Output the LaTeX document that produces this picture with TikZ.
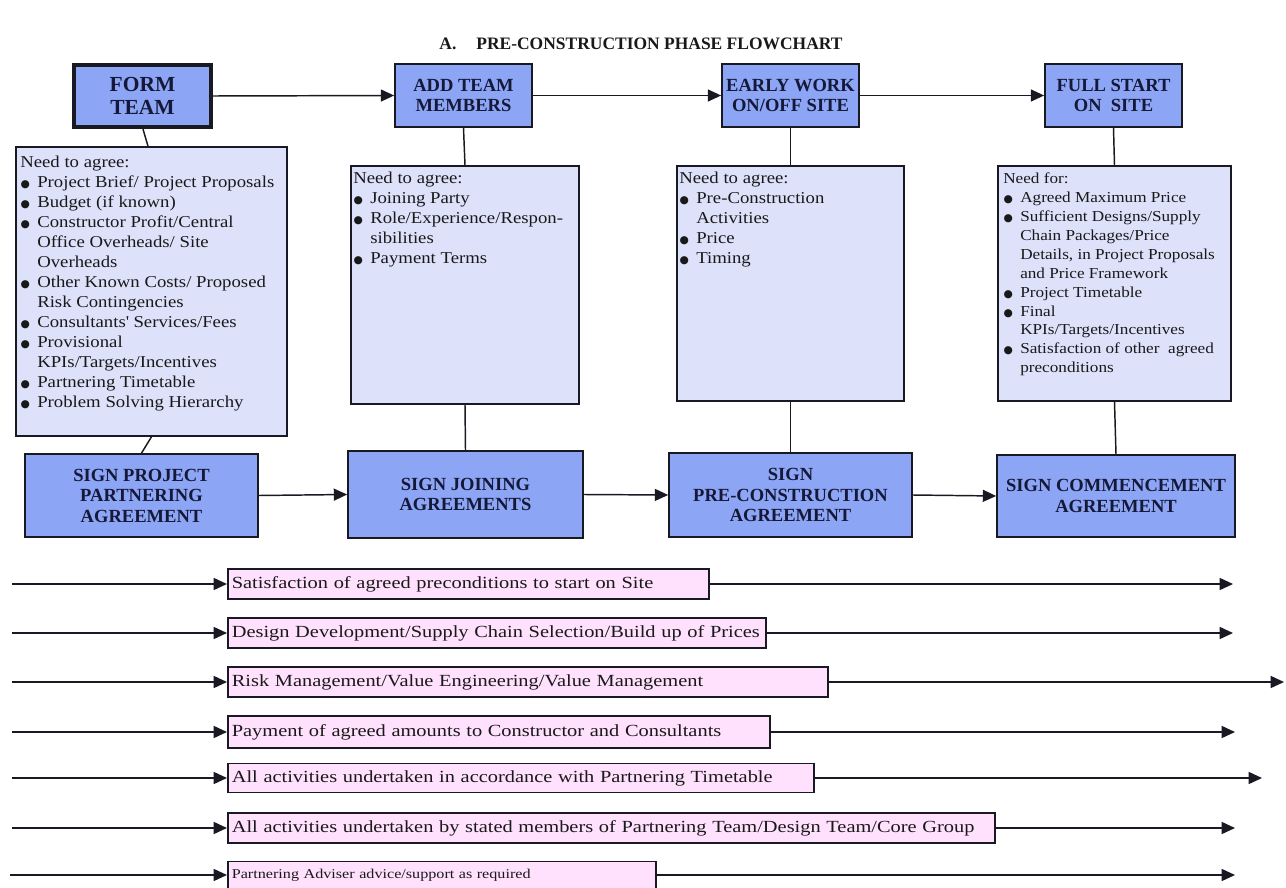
\documentclass[tikz,border=0pt]{standalone}
\usepackage{fontspec}
\setmainfont{Liberation Serif}
\newfontfamily\notefont{Liberation Serif}[FakeStretch=1.13]
\newfontfamily\bandfont{Liberation Serif}[FakeStretch=1.2]
\newfontfamily\symfont{DejaVu Sans}
\usetikzlibrary{arrows.meta,calc}
\definecolor{hdrblue}{RGB}{140,165,245}
\definecolor{notebg}{RGB}{221,225,250}
\definecolor{bandbg}{RGB}{255,225,254}
\definecolor{hdrtext}{RGB}{22,24,56}
\definecolor{linecol}{RGB}{25,25,35}
\newcommand{\pxu}{*0.75pt}
\newcommand{\bul}{\makebox[12.75pt][l]{\hspace{0.3pt}{\symfont\fontsize{8}{8}\selectfont ●}}}
\newcommand{\ind}{\hspace*{12.75pt}}
\begin{document}
\begin{tikzpicture}[x=0.75pt,y=-0.75pt,
  hdr/.style={draw=linecol, line width=1.3pt, fill=hdrblue, text=hdrtext,
    font=\bfseries\fontsize{13.9}{15.4}\selectfont, align=center, inner sep=0pt},
  note/.style={draw=linecol, line width=1.2pt, fill=notebg, inner sep=0pt},
  notetext/.style={anchor=north west, inner sep=0pt, align=left, text=black!90,
    font=\notefont\fontsize{12.45}{15}\selectfont},
  band/.style={draw=linecol, line width=1.2pt, fill=bandbg, anchor=west,
    inner xsep=3pt, inner ysep=0pt, align=left, text=black!90,
    font=\bandfont\fontsize{12.75}{14}\selectfont},
  conn/.style={line width=1.1pt, draw=linecol},
  arr/.style={conn, -{Triangle[length=10pt,width=9pt]}}]
\useasboundingbox (0,0) rectangle (1286,888);
\fill[white] (0,0) rectangle (1286,888);

% title
\node[font=\bfseries\fontsize{13.1}{15}\selectfont, text=black!90] (title) at (641,44)
  {A.\hspace{15pt}PRE-CONSTRUCTION PHASE FLOWCHART};

% top row
\node[hdr, line width=3.2pt, minimum width=137\pxu, minimum height=62\pxu,
  font=\bfseries\fontsize{16.1}{17.3}\selectfont] (form) at (142.5,96) {FORM\\TEAM};
\node[hdr, minimum width=137\pxu, minimum height=63\pxu] (add) at (463.5,95.5) {ADD TEAM\\MEMBERS};
\node[hdr, minimum width=137\pxu, minimum height=63\pxu] (early) at (790.5,95.5) {EARLY WORK\\ON/OFF SITE};
\node[hdr, minimum width=137\pxu, minimum height=63\pxu] (full) at (1113.5,95.5) {FULL START\\ON\ \ SITE};

\draw[arr] (form.east) -- (add.west);
\draw[arr] (add.east) -- (early.west);
\draw[arr] (early.east) -- (full.west);

% note boxes
\node[note, minimum width=271\pxu, minimum height=289\pxu] (n1) at (151.5,291.5) {};
\node[note, minimum width=228\pxu, minimum height=238\pxu] (n2) at (465,285) {};
\node[note, minimum width=227\pxu, minimum height=235\pxu] (n3) at (790.5,283.5) {};
\node[note, minimum width=233\pxu, minimum height=235\pxu] (n4) at (1114.5,283.5) {};

\node[notetext] (t1) at (20,156) {Need to agree:\\
\bul Project Brief/ Project Proposals\\
\bul Budget (if known)\\
\bul Constructor Profit/Central\\
\ind Office Overheads/ Site\\
\ind Overheads\\
\bul Other Known Costs/ Proposed\\
\ind Risk Contingencies\\
\bul Consultants\textquotesingle\ Services/Fees\\
\bul Provisional\\
\ind KPIs/Targets/Incentives\\
\bul Partnering Timetable\\
\bul Problem Solving Hierarchy};

\node[notetext] (t2) at (353,172) {Need to agree:\\
\bul Joining Party\\
\bul Role/Experience/Respon-\\
\ind sibilities\\
\bul Payment Terms};

\node[notetext] (t3) at (679,172) {Need to agree:\\
\bul Pre-Construction\\
\ind Activities\\
\bul Price\\
\bul Timing};

\node[notetext, font=\notefont\fontsize{11.4}{14.2}\selectfont] (t4) at (1003,172.5) {Need for:\\
\bul Agreed Maximum Price\\
\bul Sufficient Designs/Supply\\
\ind Chain Packages/Price\\
\ind Details, in Project Proposals\\
\ind and Price Framework\\
\bul Project Timetable\\
\bul Final\\
\ind KPIs/Targets/Incentives\\
\bul Satisfaction of other\ \ agreed\\
\ind preconditions};

% sign row
\node[hdr, minimum width=233\pxu, minimum height=83\pxu] (sp) at (141.5,495.5) {SIGN PROJECT\\PARTNERING\\AGREEMENT};
\node[hdr, minimum width=235\pxu, minimum height=87\pxu] (sj) at (465.5,494.5) {SIGN JOINING\\AGREEMENTS};
\node[hdr, minimum width=243\pxu, minimum height=84\pxu] (spc) at (790.5,495) {SIGN\\PRE-CONSTRUCTION\\AGREEMENT};
\node[hdr, minimum width=238\pxu, minimum height=82\pxu] (sc) at (1116,496) {SIGN COMMENCEMENT\\AGREEMENT};

\draw[arr] (sp.east) -- (sj.west);
\draw[arr] (sj.east) -- (spc.west);
\draw[arr] (spc.east) -- (sc.west);

% vertical connectors
\draw[conn] ([xshift=0.5\pxu]form.south) -- ([xshift=-3.5\pxu]n1.north);
\draw[conn] (n1.south) -- (sp.north);
\draw[conn] (add.south) -- (n2.north);
\draw[conn] (n2.south) -- (sj.north);
\draw[conn] (early.south) -- (n3.north);
\draw[conn] (n3.south) -- (spc.north);
\draw[conn] (full.south) -- (n4.north);
\draw[conn] (n4.south) -- (sc.north);

% bands
\node[band, minimum height=30\pxu, text width=354.75pt] (b1) at (227,584) {Satisfaction of agreed preconditions to start on Site};
\node[band, minimum height=30\pxu, text width=397.5pt] (b2) at (227,633) {Design Development/Supply Chain Selection/Build up of Prices};
\node[band, minimum height=30\pxu, text width=444pt] (b3) at (227,682) {Risk Management/Value Engineering/Value Management};
\node[band, minimum height=32\pxu, text width=400.5pt] (b4) at (227,732) {Payment of agreed amounts to Constructor and Consultants};
\node[band, minimum height=29\pxu, text width=433.5pt] (b5) at (227,778) {All activities undertaken in accordance with Partnering Timetable};
\node[band, minimum height=30\pxu, text width=569.25pt] (b6) at (227,828) {All activities undertaken by stated members of Partnering Team/Design Team/Core Group};
\node[band, minimum height=27\pxu, text width=315pt, font=\bandfont\fontsize{10.1}{12}\selectfont] (b7) at (227,875) {Partnering Adviser advice/support as required};

\coordinate (b1s) at (12,584);  \coordinate (b1e) at (1233,584);
\coordinate (b2s) at (12,633);  \coordinate (b2e) at (1233,633);
\coordinate (b3s) at (12,682);  \coordinate (b3e) at (1284,682);
\coordinate (b4s) at (12,732);  \coordinate (b4e) at (1235,732);
\coordinate (b5s) at (12,778);  \coordinate (b5e) at (1262,778);
\coordinate (b6s) at (12,828);  \coordinate (b6e) at (1235,828);
\coordinate (b7s) at (10,875);  \coordinate (b7e) at (1235,875);

\foreach \i in {1,...,7}{
  \draw[arr] (b\i s) -- (b\i.west);
  \draw[arr] (b\i.east) -- (b\i e);
}
\end{tikzpicture}
\end{document}
